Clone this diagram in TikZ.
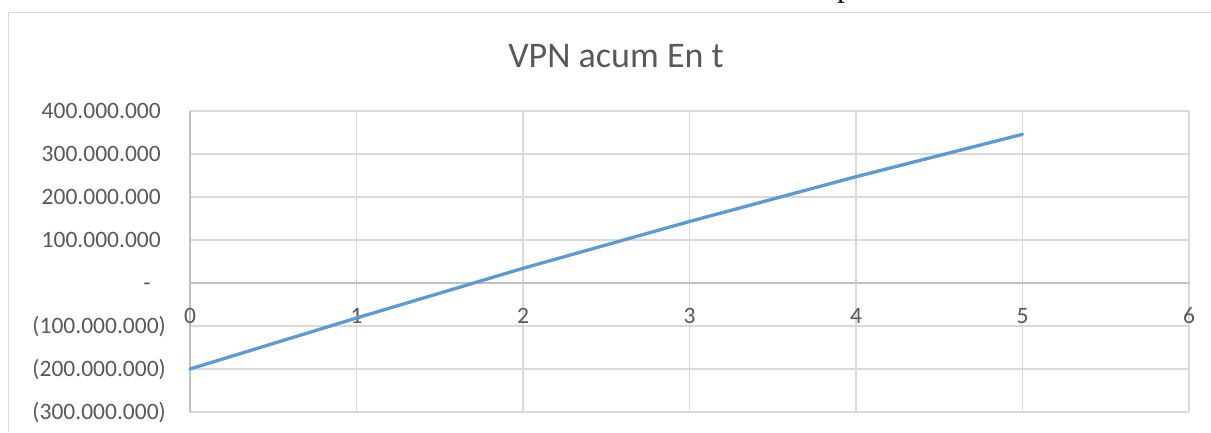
\documentclass[tikz,border=0pt]{standalone}
\usepackage{fontspec}
\setmainfont{Carlito}
\newfontfamily\docserif{Liberation Serif}
\definecolor{txtgray}{HTML}{595959}
\definecolor{gridgray}{HTML}{D9D9D9}
\definecolor{axisgray}{HTML}{BFBFBF}
\definecolor{seriesblue}{HTML}{5B9BD5}
\begin{document}
\begin{tikzpicture}[x=1pt,y=-1pt,
  ticklabel/.style={text=txtgray,font=\fontsize{23.5}{28}\selectfont,inner sep=0pt},
  gridline/.style={draw=gridgray,line width=1.2pt},
  axisline/.style={draw=axisgray,line width=1.2pt},
  seriesline/.style={draw=seriesblue,line width=3.3pt,line cap=round,line join=round}]
\useasboundingbox (0,0) rectangle (1211,432);
\fill[white] (0,0) rectangle (1211,432);
% chart frame
\draw[gridgray,line width=1.2pt] (8.5,432) -- (8.5,12.3) -- (1211,12.3);
% cut text above
\node[font=\docserif\fontsize{32}{38}\selectfont,anchor=base west,inner sep=0pt] (ptxt) at (837,-3.5) {p};
% title
\node[text=txtgray,font=\fontsize{36}{42}\selectfont,anchor=base,inner sep=0pt] (title) at (616,67) {VPN acum En t};
% horizontal grid
\foreach \yy in {111,154,197,240,326,369,412} {
  \draw[gridline] (190,\yy) -- (1189,\yy);
}
% vertical grid
\foreach \i in {1,...,6} {
  \draw[gridline] ({190+166.5*\i},111) -- ({190+166.5*\i},412);
}
% axes
\draw[axisline] (190,283) -- (1189,283);
\draw[axisline] (190,111) -- (190,412);
% y labels
\node[ticklabel,anchor=base east] (y400) at (161,118.5) {400.000.000};
\node[ticklabel,anchor=base east] (y300) at (161,161.5) {300.000.000};
\node[ticklabel,anchor=base east] (y200) at (161,204.5) {200.000.000};
\node[ticklabel,anchor=base east] (y100) at (161,247.5) {100.000.000};
\node[ticklabel,anchor=base] (y0) at (147,290.5) {-};
\node[ticklabel,anchor=base east] (ym100) at (166,333.5) {(100.000.000)};
\node[ticklabel,anchor=base east] (ym200) at (166,376.5) {(200.000.000)};
\node[ticklabel,anchor=base east] (ym300) at (166,419.5) {(300.000.000)};
% x labels
\foreach \i in {0,...,6} {
  \node[ticklabel,anchor=base] (x\i) at ({190+166.5*\i},323) {\i};
}
% series
\coordinate (p0) at (190,369);
\coordinate (p1) at (356.5,318);
\coordinate (p2) at (523,268.3);
\coordinate (p3) at (689.5,221.5);
\coordinate (p4) at (856,176.7);
\coordinate (p5) at (1022.5,134.3);
\draw[seriesline] (p0) -- (p1) -- (p2) -- (p3) -- (p4) -- (p5);
\end{tikzpicture}
\end{document}
